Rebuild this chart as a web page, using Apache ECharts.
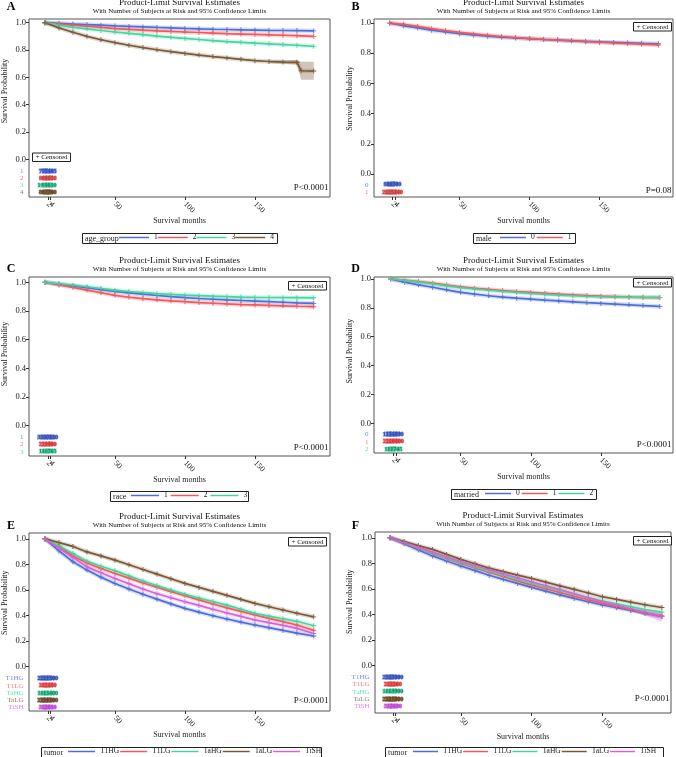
<!DOCTYPE html>
<html>
<head>
<meta charset="utf-8">
<script src="https://cdn.jsdelivr.net/npm/echarts@6/dist/echarts.min.js"></script>
<style>
html,body{margin:0;padding:0;background:#fff}
#main{width:676px;height:757px}
</style>
</head>
<body>
<div id="main"></div>
<script>
var FONT = '"Liberation Serif", "DejaVu Serif", serif';

//时间点（月）
var months = [0,10,20,30,40,50,60,70,80,90,100,110,120,130,140,150,160,170,180,192];
var riskTimes = [0,2,4];
var xTicks = [0,2,4,50,100,150];
var yTicks = [0,0.2,0.4,0.6,0.8,1];

//A: age_group
var ageNames = ['1','2','3','4'];
var age1 = [1.0,0.995,0.99,0.986,0.982,0.977,0.973,0.969,0.965,0.962,0.958,0.955,0.952,0.95,0.948,0.946,0.944,0.943,0.942,0.940];
var age2 = [1.0,0.99,0.982,0.974,0.966,0.957,0.951,0.945,0.94,0.936,0.932,0.928,0.924,0.92,0.917,0.914,0.911,0.908,0.905,0.900];
var age3 = [1.0,0.982,0.966,0.955,0.943,0.932,0.922,0.912,0.902,0.893,0.885,0.877,0.869,0.862,0.856,0.85,0.845,0.84,0.835,0.827];
var age4Months = [0,10,20,30,40,50,60,70,80,90,100,110,120,130,140,150,160,170,180,183,192];
var age4 = [1.0,0.962,0.93,0.9,0.875,0.854,0.835,0.818,0.802,0.788,0.775,0.763,0.752,0.742,0.732,0.722,0.716,0.712,0.71,0.648,0.646];
var age4BandMonths = [160,170,180,183,192];
var age4BandLow = [0.705,0.700,0.694,0.582,0.582];
var age4BandHigh = [0.727,0.725,0.726,0.714,0.714];
var ageRisk = [[7820,7610,7405],[9114,8870,8650],[10258,9930,9610],[8643,8210,7790]];

//B: male
var maleNames = ['0','1'];
var male0 = [1.0,0.982,0.968,0.953,0.941,0.930,0.921,0.913,0.906,0.901,0.896,0.891,0.887,0.883,0.879,0.875,0.872,0.869,0.866,0.863];
var male1 = [1.0,0.992,0.978,0.963,0.950,0.938,0.928,0.919,0.911,0.904,0.898,0.892,0.887,0.882,0.877,0.873,0.868,0.864,0.860,0.855];
var maleRisk = [[9210,8950,8700],[26625,25880,25140]];

//C: race
var raceNames = ['1','2','3'];
var race1 = [1.0,0.988,0.975,0.962,0.948,0.936,0.926,0.917,0.908,0.900,0.893,0.887,0.882,0.877,0.873,0.869,0.865,0.861,0.857,0.853];
var race2 = [1.0,0.982,0.965,0.946,0.927,0.909,0.896,0.886,0.878,0.871,0.865,0.859,0.854,0.849,0.845,0.842,0.839,0.836,0.833,0.830];
var race3 = [1.0,0.99,0.98,0.969,0.957,0.945,0.936,0.928,0.921,0.916,0.911,0.907,0.903,0.900,0.897,0.895,0.894,0.893,0.893,0.892];
var raceRisk = [[31870,30990,30120],[2105,2040,1980],[1860,1810,1765]];

//D: married
var marriedNames = ['0','1','2'];
var married0 = [1.0,0.978,0.96,0.943,0.925,0.908,0.895,0.884,0.875,0.867,0.861,0.854,0.848,0.842,0.836,0.831,0.826,0.821,0.816,0.810];
var married1 = [1.0,0.992,0.982,0.971,0.958,0.945,0.936,0.928,0.920,0.913,0.907,0.901,0.895,0.890,0.885,0.881,0.878,0.875,0.873,0.871];
var married2 = [1.0,0.99,0.979,0.967,0.953,0.940,0.931,0.922,0.914,0.907,0.900,0.894,0.889,0.884,0.880,0.877,0.875,0.874,0.873,0.873];
var marriedRisk = [[12540,12180,11830],[21460,20920,20400],[1835,1790,1745]];

//E: tumor
var tumorNames = ['T1HG','T1LG','TaHG','TaLG','TiSH'];
var eT1HG = [1.0,0.905,0.82,0.755,0.70,0.651,0.607,0.566,0.528,0.491,0.456,0.427,0.398,0.373,0.349,0.326,0.305,0.284,0.263,0.240];
var eT1LG = [1.0,0.94,0.865,0.81,0.768,0.729,0.692,0.655,0.621,0.587,0.555,0.522,0.49,0.46,0.432,0.404,0.378,0.352,0.326,0.285];
var eTaHG = [1.0,0.945,0.885,0.825,0.785,0.75,0.71,0.67,0.634,0.599,0.565,0.537,0.509,0.481,0.449,0.417,0.395,0.375,0.355,0.320];
var eTaLG = [1.0,0.97,0.94,0.897,0.866,0.833,0.797,0.76,0.724,0.687,0.651,0.62,0.589,0.558,0.526,0.495,0.469,0.443,0.418,0.390];
var eTiSH = [1.0,0.925,0.855,0.78,0.735,0.69,0.648,0.607,0.57,0.539,0.508,0.479,0.449,0.42,0.393,0.365,0.344,0.323,0.30,0.260];
var eRisk = [[25870,23200,21500],[2410,2260,2150],[14980,14100,13400],[22870,22010,21300],[3150,2960,2810]];

//F: tumor
var fT1HG = [1.0,0.953,0.905,0.858,0.818,0.779,0.743,0.707,0.675,0.643,0.612,0.583,0.554,0.526,0.5,0.474,0.453,0.432,0.41,0.385];
var fT1LG = [1.0,0.96,0.918,0.878,0.839,0.80,0.765,0.73,0.697,0.663,0.63,0.601,0.572,0.543,0.515,0.487,0.462,0.438,0.414,0.39];
var fTaHG = [1.0,0.961,0.921,0.882,0.843,0.805,0.771,0.738,0.706,0.674,0.643,0.615,0.588,0.56,0.532,0.505,0.483,0.461,0.439,0.418];
var fTaLG = [1.0,0.97,0.939,0.909,0.87,0.831,0.797,0.763,0.735,0.708,0.682,0.653,0.624,0.597,0.568,0.539,0.518,0.497,0.476,0.455];
var fTiSH = [1.0,0.963,0.925,0.888,0.85,0.813,0.781,0.75,0.718,0.687,0.656,0.625,0.594,0.562,0.531,0.5,0.473,0.445,0.415,0.385];
var fTiSHBandMonths = [150,160,170,180,192];
var fTiSHBandLow = [0.488,0.458,0.428,0.39,0.345];
var fTiSHBandHigh = [0.512,0.488,0.462,0.44,0.425];
var fRisk = [[25870,24800,23900],[2410,2330,2260],[14980,14450,13900],[22870,22190,21500],[3150,3040,2930]];

//颜色
var BLUE = '#4f6fd8', RED = '#f2585c', GREEN = '#45d6a0', BROWN = '#7c5a38', MAG = '#d862d8';
var BLUE_D = '#2e3f98', RED_D = '#a8342e', GREEN_D = '#0e6a58', BROWN_D = '#5e3f20', MAG_D = '#9a3ee0';

var plusSymbol = 'path://M-0.35,-2L0.35,-2L0.35,-0.35L2,-0.35L2,0.35L0.35,0.35L0.35,2L-0.35,2L-0.35,0.35L-2,0.35L-2,-0.35L-0.35,-0.35Z';

var panels = [
  { letter: 'A', left: 29, top: 19, width: 301, height: 178, xMin: -11.4, xMax: 203.6, yMin: -0.276, yMax: 1.027,
    names: ageNames, times: [months, months, months, age4Months], values: [age1, age2, age3, age4],
    colors: [BLUE, RED, GREEN, BROWN], dark: [BLUE_D, RED_D, GREEN_D, BROWN_D], risk: ageRisk,
    rowStart: -0.086, rowStep: 0.052, pValue: 'P<0.0001', pY: 188, censor: [32, 152.5],
    legendTitle: 'age_group', legendBox: [82, 277, 233], legendLeft: 119, itemWidth: 30, itemGap: 0,
    band: { idx: 3, times: age4BandMonths, low: age4BandLow, high: age4BandHigh } },
  { letter: 'B', left: 374, top: 19, width: 299, height: 178, xMin: -11.2, xMax: 202.4, yMin: -0.153, yMax: 1.027,
    names: maleNames, times: [months, months], values: [male0, male1],
    colors: [BLUE, RED], dark: [BLUE_D, RED_D], risk: maleRisk,
    rowStart: -0.073, rowStep: 0.051, pValue: 'P=0.08', pY: 191, censor: [633, 22],
    legendTitle: 'male', legendBox: [473, 575, 233], legendLeft: 500, itemWidth: 26, itemGap: 2 },
  { letter: 'C', left: 29, top: 277, width: 301, height: 179, xMin: -11.4, xMax: 203.6, yMin: -0.211, yMax: 1.037,
    names: raceNames, times: [months, months, months], values: [race1, race2, race3],
    colors: [BLUE, RED, GREEN], dark: [BLUE_D, RED_D, GREEN_D], risk: raceRisk,
    rowStart: -0.081, rowStep: 0.05, pValue: 'P<0.0001', pY: 448, censor: [288, 281],
    legendTitle: 'race', legendBox: [110, 248, 491], legendLeft: 131, itemWidth: 28, itemGap: 3 },
  { letter: 'D', left: 374, top: 277, width: 299, height: 176, xMin: -11.8, xMax: 201.4, yMin: -0.206, yMax: 1.014,
    names: marriedNames, times: [months, months, months], values: [married0, married1, married2],
    colors: [BLUE, RED, GREEN], dark: [BLUE_D, RED_D, GREEN_D], risk: marriedRisk,
    rowStart: -0.076, rowStep: 0.052, pValue: 'P<0.0001', pY: 445, censor: [633, 278],
    legendTitle: 'married', legendBox: [451, 596, 489], legendLeft: 485, itemWidth: 26, itemGap: 2 },
  { letter: 'E', left: 29, top: 533, width: 301, height: 178, xMin: -11.4, xMax: 203.6, yMin: -0.346, yMax: 1.045,
    names: tumorNames, times: [months, months, months, months, months], values: [eT1HG, eT1LG, eTaHG, eTaLG, eTiSH],
    colors: [BLUE, RED, GREEN, BROWN, MAG], dark: [BLUE_D, RED_D, GREEN_D, BROWN_D, MAG_D], risk: eRisk,
    rowStart: -0.091, rowStep: 0.057, pValue: 'P<0.0001', pY: 701, censor: [288, 537],
    legendTitle: 'tumor', legendBox: [41, 321, 747], legendLeft: 68, itemWidth: 27, itemGap: 1 },
  { letter: 'F', left: 375, top: 532, width: 296, height: 181, xMin: -10.6, xMax: 198.4, yMin: -0.37, yMax: 1.045,
    names: tumorNames, times: [months, months, months, months, months], values: [fT1HG, fT1LG, fTaHG, fTaLG, fTiSH],
    colors: [BLUE, RED, GREEN, BROWN, MAG], dark: [BLUE_D, RED_D, GREEN_D, BROWN_D, MAG_D], risk: fRisk,
    rowStart: -0.091, rowStep: 0.057, pValue: 'P<0.0001', pY: 699, censor: [633, 536],
    legendTitle: 'tumor', legendBox: [385, 663, 747], legendLeft: 413, itemWidth: 25, itemGap: 1,
    band: { idx: 4, times: fTiSHBandMonths, low: fTiSHBandLow, high: fTiSHBandHigh } }
];

function zip(a, b) {
  return a.map(function(t, i) { return [t, b[i]]; });
}

function bandSeries(k, band, color) {
  return {
    type: 'custom', xAxisIndex: k, yAxisIndex: k, silent: true, z: 2,
    data: band.times.map(function(t, i) { return [t, band.low[i], band.high[i]]; }),
    renderItem: function(params, api) {
      if (params.dataIndex !== 0) return null;
      var pts = [], i;
      for (i = 0; i < band.times.length; i++) pts.push(api.coord([band.times[i], band.high[i]]));
      for (i = band.times.length - 1; i >= 0; i--) pts.push(api.coord([band.times[i], band.low[i]]));
      return { type: 'polygon', shape: { points: pts }, style: { fill: color, opacity: 0.35 } };
    }
  };
}

var option = {
  animation: false,
  textStyle: { fontFamily: FONT },
  grid: [], xAxis: [], yAxis: [], series: [], legend: [], graphic: []
};

panels.forEach(function(p, k) {
  var right = p.left + p.width, bottom = p.top + p.height;
  var yPix = function(v) { return p.top + (p.yMax - v) / (p.yMax - p.yMin) * p.height; };

  option.grid.push({ left: p.left, top: p.top, width: p.width, height: p.height, show: true,
    borderColor: '#555', borderWidth: 1, backgroundColor: 'transparent' });

  option.xAxis.push({
    type: 'value', gridIndex: k, min: p.xMin, max: p.xMax,
    splitLine: { show: false }, axisLine: { show: false, onZero: false },
    axisTick: { show: true, customValues: xTicks, length: 3, lineStyle: { color: '#333' } },
    axisLabel: { customValues: xTicks, rotate: -45, fontSize: 8, color: '#222', margin: 6,
      formatter: function(v) { return String(v); } }
  });
  option.yAxis.push({
    type: 'value', gridIndex: k, min: p.yMin, max: p.yMax,
    splitLine: { show: false }, axisLine: { show: false, onZero: false },
    axisTick: { show: true, customValues: yTicks, length: 3, lineStyle: { color: '#333' } },
    axisLabel: { customValues: yTicks, fontSize: 8.5, color: '#222', margin: 3,
      formatter: function(v) { return v.toFixed(1); } }
  });

  if (p.band) option.series.push(bandSeries(k, p.band, p.colors[p.band.idx]));

  p.names.forEach(function(name, i) {
    var data = zip(p.times[i], p.values[i]);
    //置信带光晕
    option.series.push({
      type: 'line', xAxisIndex: k, yAxisIndex: k, data: data, symbol: 'none', silent: true, z: 2,
      lineStyle: { width: 4.5, color: p.colors[i], opacity: 0.22 }
    });
    option.series.push({
      name: name, type: 'line', xAxisIndex: k, yAxisIndex: k, data: data,
      symbol: plusSymbol, symbolSize: 5, showAllSymbol: true, z: 3,
      itemStyle: { color: p.colors[i] }, lineStyle: { width: 1.7, color: p.colors[i] }
    });
    var rowY = p.rowStart - i * p.rowStep;
    //风险人数表
    option.series.push({
      type: 'scatter', xAxisIndex: k, yAxisIndex: k, silent: true, clip: false, z: 4,
      symbolSize: 1, itemStyle: { color: 'transparent' },
      data: riskTimes.map(function(t, j) { return [t, rowY, p.risk[i][j]]; }),
      label: { show: true, position: 'inside', fontSize: 6, fontWeight: 'bold', color: p.dark[i],
        textBorderColor: p.colors[i], textBorderWidth: 1.2,
        formatter: function(prm) { return String(prm.value[2]); } }
    });
    option.series.push({
      type: 'scatter', xAxisIndex: k, yAxisIndex: k, silent: true, clip: false, z: 4,
      symbolSize: 1, itemStyle: { color: 'transparent' },
      data: [[p.xMin, rowY]],
      label: { show: true, position: 'left', distance: 5, fontSize: 7, color: p.colors[i],
        formatter: function() { return name; } }
    });
  });

  option.legend.push({
    left: p.legendLeft, top: p.legendBox[2] + 0.5, orient: 'horizontal', padding: 0, width: 300,
    itemWidth: p.itemWidth, itemHeight: 1.5, itemGap: p.itemGap, icon: 'rect', selectedMode: false,
    textStyle: { fontSize: 7.5, color: '#222', fontFamily: FONT },
    data: p.names.map(function(n, i) { return { name: n, itemStyle: { color: p.colors[i] } }; })
  });

  var cx = p.left + p.width / 2;
  var g = option.graphic;
  g.push({ type: 'text', x: cx, y: p.top - 16, style: { text: 'Product-Limit Survival Estimates',
    font: '9px ' + FONT, fill: '#111', align: 'center', verticalAlign: 'middle' } });
  g.push({ type: 'text', x: cx, y: p.top - 8, style: { text: 'With Number of Subjects at Risk and 95% Confidence Limits',
    font: '7px ' + FONT, fill: '#111', align: 'center', verticalAlign: 'middle' } });
  g.push({ type: 'text', x: k % 2 === 0 ? 11 : 355.5, y: k < 2 ? 7 : (k < 4 ? 268.5 : 525.5), style: { text: p.letter,
    font: 'bold 12px ' + FONT, fill: '#000', align: 'center', verticalAlign: 'middle' } });
  g.push({ type: 'text', x: k % 2 === 0 ? 4.5 : 350, y: (yPix(0) + yPix(1)) / 2, rotation: Math.PI / 2,
    style: { text: 'Survival Probability', font: '8px ' + FONT, fill: '#222', align: 'center', verticalAlign: 'middle' } });
  g.push({ type: 'text', x: cx, y: bottom + 24, style: { text: 'Survival months',
    font: '8px ' + FONT, fill: '#222', align: 'center', verticalAlign: 'middle' } });
  g.push({ type: 'text', x: right - 1.5, y: p.pY, style: { text: p.pValue,
    font: '9px ' + FONT, fill: '#111', align: 'right', verticalAlign: 'middle' } });
  //删失标记框
  g.push({ type: 'rect', z: 10, shape: { x: p.censor[0] + 0.5, y: p.censor[1] + 0.5, width: 38, height: 8.5 },
    style: { fill: '#fff', stroke: '#222', lineWidth: 1 } });
  g.push({ type: 'text', z: 11, x: p.censor[0] + 19.5, y: p.censor[1] + 5, style: { text: '+ Censored',
    font: '7px ' + FONT, fill: '#111', align: 'center', verticalAlign: 'middle' } });
  //图例框
  var lb = p.legendBox;
  g.push({ type: 'rect', z: 1, shape: { x: lb[0] + 0.5, y: lb[2] + 0.5, width: lb[1] - lb[0], height: 10 },
    style: { fill: 'transparent', stroke: '#222', lineWidth: 1 } });
  g.push({ type: 'text', z: 2, x: lb[0] + 3, y: lb[2] + 5.5, style: { text: p.legendTitle,
    font: '8px ' + FONT, fill: '#222', align: 'left', verticalAlign: 'middle' } });
});

var myChart = echarts.init(document.getElementById('main'));
myChart.setOption(option);
</script>
</body>
</html>
